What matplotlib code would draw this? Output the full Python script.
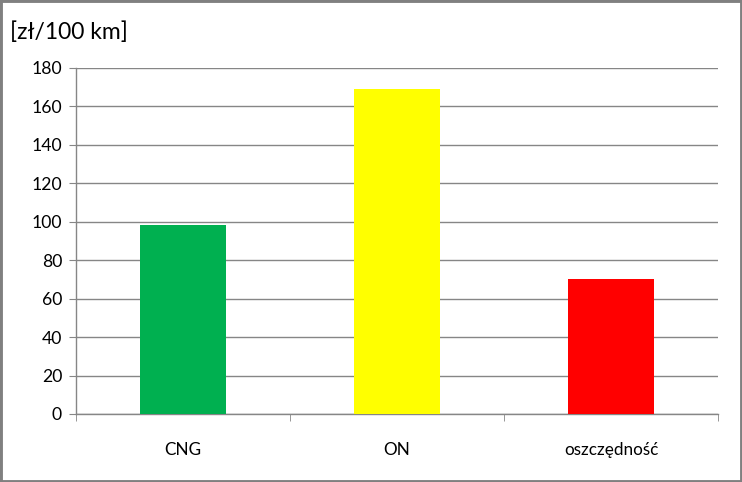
import matplotlib
matplotlib.use("Agg")
import matplotlib.pyplot as plt
from matplotlib.patches import Rectangle

categories = ["CNG", "ON", "oszczędność"]
values = [98.3, 169.1, 70.2]
colors = ["#00B050", "#FFFF00", "#FF0000"]
yticks = [0, 20, 40, 60, 80, 100, 120, 140, 160, 180]
unit_label = "[zł/100 km]"

plt.rcParams['font.family'] = ['Lato', 'DejaVu Sans']

fig = plt.figure(figsize=(7.42, 4.82), dpi=100)
ax = fig.add_axes([76/742, 1-414/482, (718-76)/742, (414-68)/482])

x = list(range(len(categories)))
ax.bar(x, values, width=0.40, color=colors, zorder=3)
ax.set_xlim(-0.5, len(categories) - 0.5)
ax.set_ylim(0, 180)
ax.set_yticks(yticks)
ax.set_yticklabels([str(t) for t in yticks], fontsize=12.7)
ax.set_xticks(x)
ax.set_xticklabels(categories, fontsize=12.3)

ax.yaxis.grid(True, color="#868686", linewidth=1.0, zorder=0)
ax.set_axisbelow(True)
for s in ["top", "right"]:
    ax.spines[s].set_visible(False)
for s in ["left", "bottom"]:
    ax.spines[s].set_color("#868686")
    ax.spines[s].set_linewidth(1.0)

# x ticks: minor ticks at category boundaries
ax.set_xticks([-0.5, 0.5, 1.5, 2.5], minor=True)
ax.tick_params(axis='x', which='major', length=0, pad=20)
ax.tick_params(axis='x', which='minor', length=5, color="#868686", direction='out')
ax.tick_params(axis='y', length=5, color="#868686", direction='out', pad=5)

fig.text(10/742, 1-32/482, unit_label, fontsize=16.5, ha='left', va='center')

fig.patches.append(Rectangle((0, 0), 1, 1, transform=fig.transFigure,
                             fill=False, edgecolor="#808080", linewidth=3.5))

fig.savefig("out.png", dpi=100)
